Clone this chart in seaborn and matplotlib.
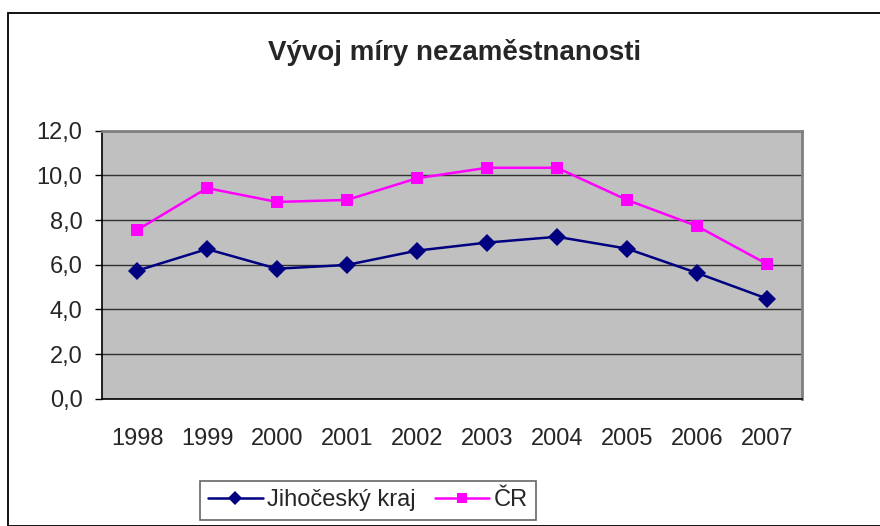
import seaborn as sns
import matplotlib.pyplot as plt
import pandas as pd
from matplotlib.ticker import FuncFormatter, FixedLocator
from matplotlib.patches import Rectangle

roky = ['1998', '1999', '2000', '2001', '2002', '2003', '2004', '2005', '2006', '2007']
jihocesky = [5.73, 6.70, 5.82, 5.99, 6.63, 6.99, 7.25, 6.72, 5.63, 4.48]
cr = [7.55, 9.43, 8.81, 8.90, 9.87, 10.34, 10.34, 8.90, 7.73, 6.03]

df = pd.DataFrame({'x': list(range(len(roky))) * 2,
                   'hodnota': jihocesky + cr,
                   'rada': ['Jihočeský kraj'] * len(roky) + ['ČR'] * len(roky)})

sns.set_style('white')
plt.rcParams['font.family'] = ['Liberation Sans', 'DejaVu Sans']

fig = plt.figure(figsize=(8.8, 5.26), dpi=100)
ax = fig.add_axes([102 / 880, 1 - 398.7 / 526, 700 / 880, 268 / 526])
fig.patches.append(Rectangle((8 / 880, 0), 1.0, 1 - 13 / 526, transform=fig.transFigure,
                             fill=False, edgecolor='black', linewidth=1.3))

sns.lineplot(data=df, x='x', y='hodnota', hue='rada', style='rada',
             palette={'Jihočeský kraj': '#000080', 'ČR': '#FF00FF'},
             markers={'Jihočeský kraj': 'D', 'ČR': 's'},
             dashes=False, markersize=9, linewidth=1.8, markeredgewidth=0, ax=ax)

ax.set_facecolor('#C0C0C0')
ax.set_xlim(-0.5, len(roky) - 0.5)
ax.set_ylim(0, 12)
ax.set_yticks([0, 2, 4, 6, 8, 10, 12])
ax.yaxis.set_major_formatter(FuncFormatter(lambda v, p: f'{v:.1f}'.replace('.', ',')))
ax.grid(axis='y', color='#303030', linewidth=1)
ax.set_axisbelow(True)

ax.xaxis.set_major_locator(FixedLocator([i - 0.5 for i in range(len(roky) + 1)]))
ax.xaxis.set_major_formatter(FuncFormatter(lambda v, p: ''))
ax.xaxis.set_minor_locator(FixedLocator(list(range(len(roky)))))
ax.set_xticklabels(roky, minor=True)
ax.tick_params(axis='x', which='major', direction='out', length=6, width=1, color='black')
ax.tick_params(axis='x', which='minor', length=0, pad=21, labelsize=17)
ax.tick_params(axis='y', direction='out', length=5, width=1, color='black', labelsize=17,
               left=True, pad=9)

for s in ['left', 'bottom']:
    ax.spines[s].set_color('black')
    ax.spines[s].set_linewidth(1.2)
for s in ['top', 'right']:
    ax.spines[s].set_color('#808080')
    ax.spines[s].set_linewidth(2)

ax.set_xlabel('')
ax.set_ylabel('')
fig.text(455 / 880, 1 - 52 / 526, 'Vývoj míry nezaměstnanosti', ha='center', va='center',
         fontsize=20, fontweight='bold')

leg = ax.legend(loc='upper left', bbox_to_anchor=(200 / 880, 1 - 481 / 526),
                bbox_transform=fig.transFigure, ncol=2, frameon=True, fancybox=False,
                edgecolor='#404040', fontsize=17, handlelength=2.3, columnspacing=0.8,
                handletextpad=0.2, borderpad=0.35, borderaxespad=0)
leg.get_frame().set_linewidth(1.2)
for h in leg.legend_handles:
    h.set_markersize(7)

plt.savefig('out.png', dpi=100)
